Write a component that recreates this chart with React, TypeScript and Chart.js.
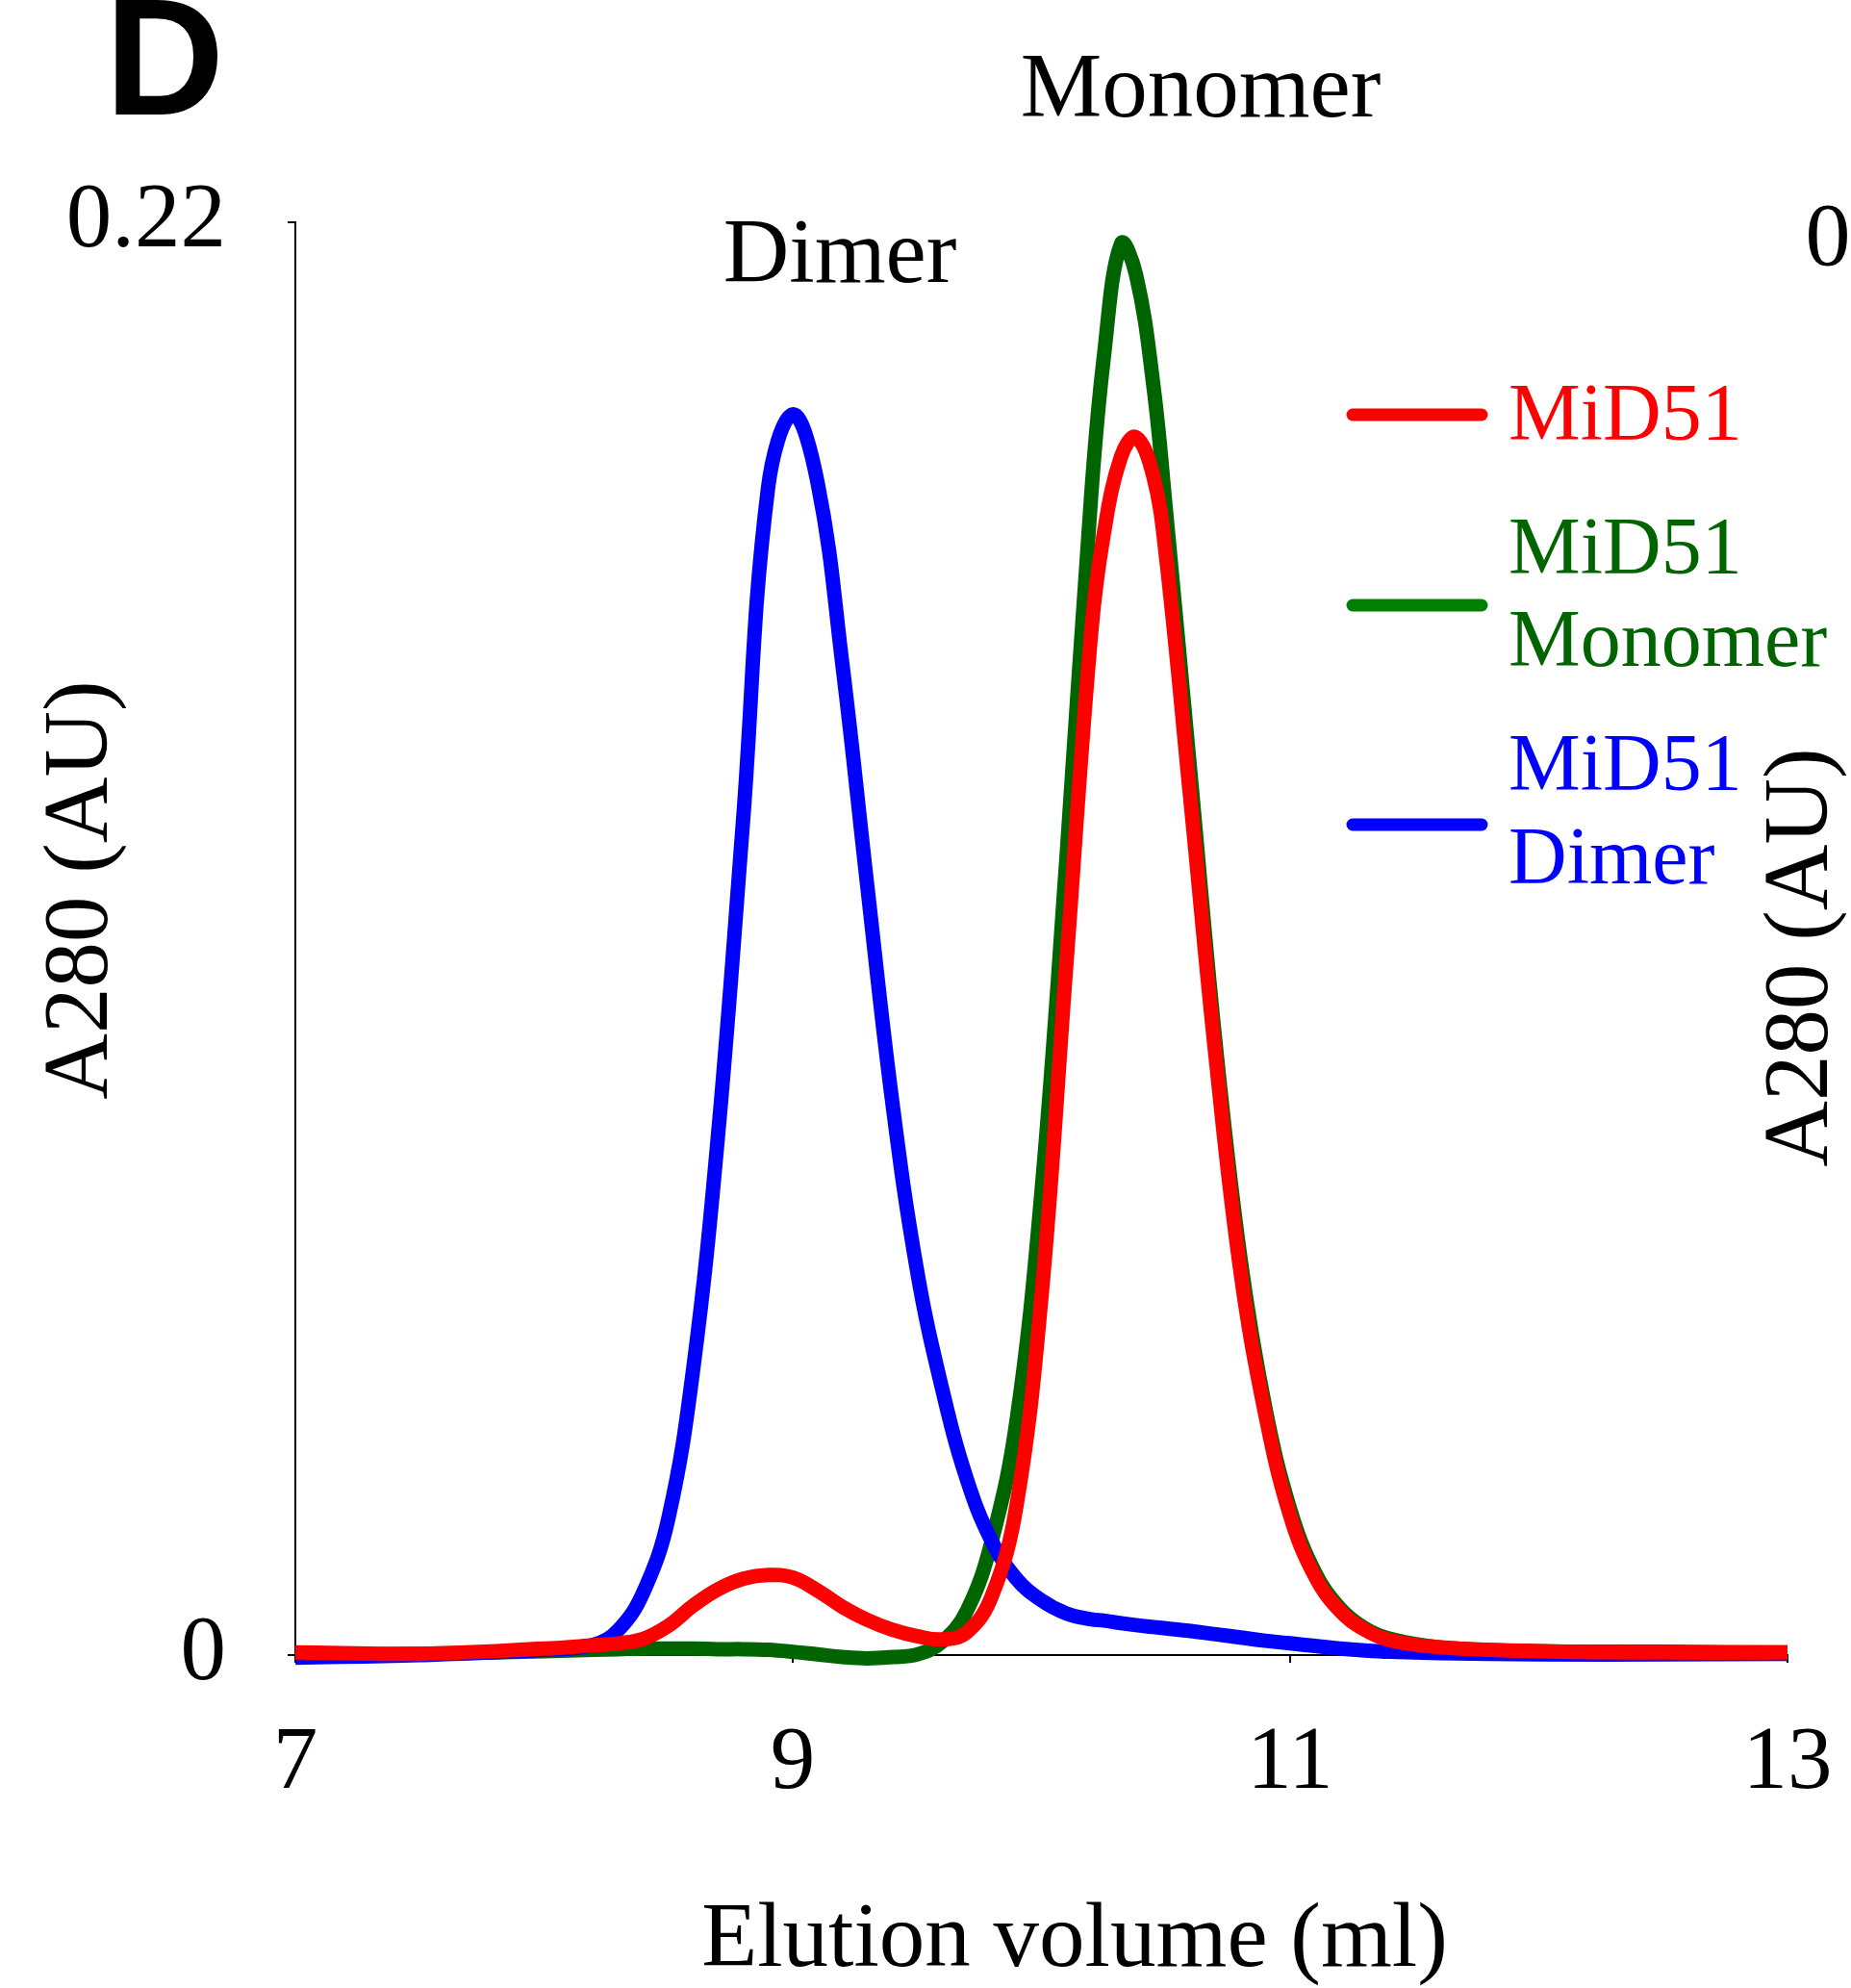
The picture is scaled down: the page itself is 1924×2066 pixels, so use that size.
import React, { useEffect, useRef } from "react";
import { Chart, registerables } from "chart.js";

Chart.register(...registerables);

// ---- data (elution volume in ml, A280 in AU) ----
const volumeMl = [
  7.0, 7.5, 8.0, 8.2, 8.3, 8.4, 8.5, 8.6, 8.7, 8.8, 8.9, 9.0, 9.1, 9.2, 9.3, 9.4,
  9.5, 9.6, 9.7, 9.8, 9.9, 10.0, 10.1, 10.2, 10.25, 10.32, 10.38, 10.45, 10.5,
  10.6, 10.7, 10.8, 10.9, 11.0, 11.1, 11.2, 11.3, 11.4, 11.6, 12.0, 12.5, 13.0,
];

const mid51 = [
  0.0004, 0.0002, 0.001, 0.0015, 0.0018, 0.0025, 0.0045, 0.0076, 0.0101, 0.0117,
  0.0123, 0.0119, 0.0099, 0.0074, 0.0054, 0.0039, 0.0029, 0.0024, 0.0035, 0.009,
  0.023, 0.055, 0.106, 0.157, 0.172, 0.184, 0.187, 0.181, 0.169, 0.131, 0.092,
  0.059, 0.037, 0.0214, 0.0121, 0.0068, 0.0039, 0.0023, 0.0012, 0.0006, 0.0004,
  0.0004,
];

const mid51Monomer = [
  0.0, 0.0002, 0.0006, 0.0008, 0.0009, 0.001, 0.001, 0.001, 0.0009, 0.0009,
  0.0008, 0.0005, 0.0001, -0.0003, -0.0005, -0.0003, 0.0001, 0.002, 0.0068, 0.0175,
  0.036, 0.071, 0.122, 0.178, 0.199, 0.2167, 0.212, 0.195, 0.176, 0.135, 0.094,
  0.061, 0.038, 0.0224, 0.0127, 0.0072, 0.0041, 0.0025, 0.0012, 0.0006, 0.0005,
  0.0004,
];

const mid51Dimer = [
  -0.0004, 0.0, 0.0008, 0.0016, 0.0039, 0.0097, 0.021, 0.044, 0.08, 0.128,
  0.179, 0.1905, 0.18, 0.152, 0.118, 0.085, 0.059, 0.041, 0.027, 0.0175, 0.0117,
  0.0084, 0.0064, 0.0055, 0.0053, 0.0049, 0.0046, 0.0043, 0.0041, 0.0037, 0.0032,
  0.0027, 0.0022, 0.0018, 0.0014, 0.001, 0.0007, 0.0005, 0.0003, 0.0001, 0.0001,
  0.0002,
];

const xTickValues = [7, 9, 11, 13];
const yTickValues = [0, 0.22];
const seriesLabels = [["MiD51"], ["MiD51", "Monomer"], ["MiD51", "Dimer"]];
const peakLabels = ["Monomer", "Dimer"];
const panelLetter = "D";
const yTitle = "A280 (AU)";
const xTitle = "Elution volume (ml)";
const rightTickLabel = "0";

const SERIF = '"Liberation Serif", "Times New Roman", serif';
const RED = "#ff0000";
const GREEN_LINE = "#006400";
const GREEN_LEGEND = "#008000";
const BLUE = "#0000ff";

const toPoints = (ys: number[]) => volumeMl.map((x, i) => ({ x, y: ys[i] }));

function drawRotated(ctx: CanvasRenderingContext2D, text: string, cx: number, cy: number) {
  ctx.save();
  ctx.translate(cx, cy);
  ctx.rotate(-Math.PI / 2);
  ctx.textAlign = "center";
  ctx.textBaseline = "middle";
  ctx.fillText(text, 0, 0);
  ctx.restore();
}

const figureTextPlugin = {
  id: "figureText",
  afterDraw(chart: any) {
    const ctx: CanvasRenderingContext2D = chart.ctx;
    ctx.save();
    ctx.fillStyle = "#000";
    ctx.textBaseline = "alphabetic";
    ctx.textAlign = "left";
    ctx.font = 'bold 172px "Liberation Sans", Arial, sans-serif';
    ctx.fillText(panelLetter, 109, 119);

    ctx.font = `95px ${SERIF}`;
    ctx.textAlign = "center";
    ctx.fillText(peakLabels[0], 1248, 121);
    ctx.fillText(peakLabels[1], 873, 293);
    ctx.fillText(xTitle, 1117, 2043);

    ctx.font = `94px ${SERIF}`;
    ctx.textBaseline = "middle";
    ctx.fillText(rightTickLabel, 1900, 250);

    ctx.font = `95px ${SERIF}`;
    drawRotated(ctx, yTitle, 86, 925);
    drawRotated(ctx, yTitle, 1874, 995);

    // legend
    const legend = [
      { lines: seriesLabels[0], lineColor: RED, textColor: RED, lineY: 431, baselines: [457] },
      { lines: seriesLabels[1], lineColor: GREEN_LEGEND, textColor: GREEN_LINE, lineY: 629, baselines: [596, 692] },
      { lines: seriesLabels[2], lineColor: BLUE, textColor: BLUE, lineY: 857, baselines: [821, 918] },
    ];
    ctx.font = `84px ${SERIF}`;
    ctx.textAlign = "left";
    ctx.textBaseline = "alphabetic";
    for (const item of legend) {
      ctx.beginPath();
      ctx.strokeStyle = item.lineColor;
      ctx.lineWidth = 13;
      ctx.lineCap = "round";
      ctx.moveTo(1406, item.lineY);
      ctx.lineTo(1540, item.lineY);
      ctx.stroke();
      ctx.fillStyle = item.textColor;
      item.lines.forEach((t, i) => ctx.fillText(t, 1568, item.baselines[i]));
    }
    ctx.restore();
  },
};

export default function App() {
  const canvasRef = useRef<HTMLCanvasElement | null>(null);

  useEffect(() => {
    const canvas = canvasRef.current;
    if (!canvas) return;
    const common = {
      pointRadius: 0,
      borderWidth: 15,
      tension: 0.4,
      fill: false,
      clip: false as any,
      borderJoinStyle: "round" as const,
    };
    const chart = new Chart(canvas, {
      type: "line",
      data: {
        datasets: [
          { ...common, label: "MiD51 Monomer", data: toPoints(mid51Monomer), borderColor: GREEN_LINE, order: 3 },
          { ...common, label: "MiD51 Dimer", data: toPoints(mid51Dimer), borderColor: BLUE, order: 2 },
          { ...common, label: "MiD51", data: toPoints(mid51), borderColor: RED, order: 1 },
        ],
      },
      options: {
        responsive: false,
        animation: false,
        layout: { padding: { left: 0, top: 231, right: 66, bottom: 0 } },
        plugins: { legend: { display: false }, tooltip: { enabled: false } },
        scales: {
          x: {
            type: "linear",
            min: 7,
            max: 13,
            afterBuildTicks: (scale: any) => {
              scale.ticks = xTickValues.map((v) => ({ value: v }));
            },
            afterFit: (scale: any) => {
              scale.height = 346;
              scale.paddingLeft = 0;
              scale.paddingRight = 0;
            },
            ticks: {
              color: "#000",
              font: { family: SERIF, size: 93 },
              padding: 50,
              maxRotation: 0,
              autoSkip: false,
              callback: (v: any) => String(v),
            },
            grid: { display: true, drawOnChartArea: false, drawTicks: true, tickLength: 8, color: "#000", lineWidth: 2 },
            border: { display: true, color: "#000", width: 2 },
          },
          y: {
            type: "linear",
            min: 0,
            max: 0.22,
            afterBuildTicks: (scale: any) => {
              scale.ticks = yTickValues.map((v) => ({ value: v }));
            },
            afterFit: (scale: any) => {
              scale.width = 307;
              scale.paddingTop = 0;
              scale.paddingBottom = 0;
            },
            ticks: {
              color: "#000",
              font: { family: SERIF, size: 95 },
              padding: 64,
              autoSkip: false,
              callback: (v: any) => (v === 0 ? "0" : Number(v).toFixed(2)),
            },
            grid: { display: true, drawOnChartArea: false, drawTicks: true, tickLength: 8, color: "#000", lineWidth: 2 },
            border: { display: true, color: "#000", width: 2 },
          },
        },
      },
      plugins: [figureTextPlugin],
    });
    return () => chart.destroy();
  }, []);

  return (
    <div style={{ position: "absolute", left: 0, top: 0, width: 1924, height: 2066, background: "#fff" }}>
      <canvas ref={canvasRef} width={1924} height={2066} style={{ display: "block", width: 1924, height: 2066 }} />
    </div>
  );
}
